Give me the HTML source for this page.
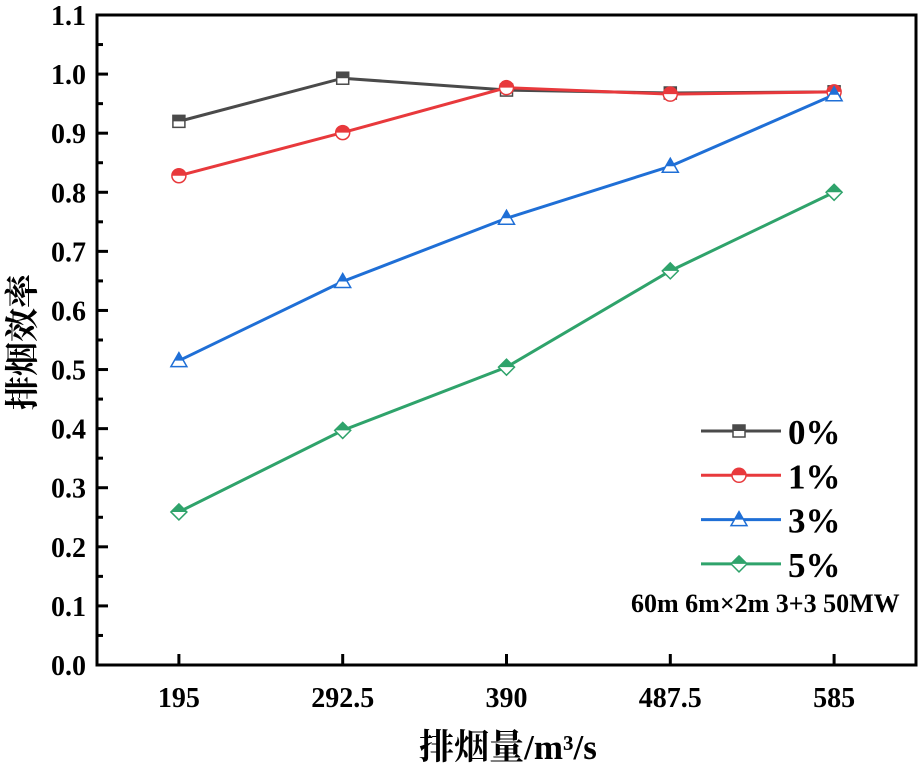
<!DOCTYPE html>
<html><head><meta charset="utf-8"><style>
body{margin:0;background:#fff}
svg{display:block;font-family:"Liberation Serif","Noto Serif CJK SC",serif}
</style></head><body>
<svg id="chart" width="921" height="768" xmlns="http://www.w3.org/2000/svg"></svg>
<script>
const categories=["195","292.5","390","487.5","585"];
const yTicks=[0,0.1,0.2,0.3,0.4,0.5,0.6,0.7,0.8,0.9,1.0,1.1];
const seriesNames=["0%","1%","3%","5%"];
const s0=[0.920,0.993,0.973,0.968,0.970];
const s1=[0.828,0.901,0.977,0.966,0.970];
const s3=[0.515,0.649,0.756,0.844,0.965];
const s5=[0.259,0.397,0.504,0.667,0.800];
const colors=["#4a4a4a","#e8393c","#1f6fd6","#2fa36b"];
const shapes=["square","circle","triangle","diamond"];
const L=97,R=916,T=15,B=665;
const step=(R-L)/categories.length;
function xs(i){return L+step*(i+0.5);}
function ys(v){return B-(v/1.1)*(B-T);}
const svg=document.getElementById('chart');
const NS="http://www.w3.org/2000/svg";
function mk(tag,attrs,parent){const e=document.createElementNS(NS,tag);for(const k in attrs)e.setAttribute(k,attrs[k]);(parent||svg).appendChild(e);return e;}
const frame=mk('rect',{x:L,y:T,width:R-L,height:B-T,fill:'none',stroke:'#000','stroke-width':3});


yTicks.forEach((v,i)=>{
 const y=ys(v);
 const t=mk('line',{x1:L,x2:L+11,y1:y,y2:y,stroke:'#000','stroke-width':3});
 
 
 if(i<yTicks.length-1){const ym=ys(v+0.05);const m=mk('line',{x1:L,x2:L+6,y1:ym,y2:ym,stroke:'#000','stroke-width':3});
 
 }
 const tx=mk('text',{x:L-11,y:y+10,'text-anchor':'end','font-size':28,'font-weight':'bold'});
 tx.textContent=v.toFixed(1);
 
 
});
categories.forEach((c,i)=>{
 const x=xs(i);
 const t=mk('line',{x1:x,x2:x,y1:B,y2:B-11,stroke:'#000','stroke-width':3});
 
 
 const tx=mk('text',{x:x,y:B+42,'text-anchor':'middle','font-size':28,'font-weight':'bold'});
 tx.textContent=c;
 
 
});
const xt=mk('text',{x:508,y:759,'text-anchor':'middle','font-size':35,'font-weight':'bold'});
xt.textContent='排烟量/m³/s';


const yt=mk('text',{x:0,y:0,'text-anchor':'middle','font-size':34,'font-weight':'bold',transform:'translate(34,342) rotate(-90)'});
yt.textContent='排烟效率';


function marker(shape,x,y,col,g){
 const s=6;
 if(shape==='square'){mk('rect',{x:x-s,y:y-s,width:2*s,height:2*s,fill:'#fff',stroke:col,'stroke-width':1.5},g);mk('rect',{x:x-s,y:y-s,width:2*s,height:s,fill:col},g);}
 else if(shape==='circle'){mk('circle',{cx:x,cy:y,r:7,fill:'#fff',stroke:col,'stroke-width':1.5},g);mk('path',{d:`M${x-7},${y} A7,7 0 0 1 ${x+7},${y} Z`,fill:col},g);}
 else if(shape==='triangle'){mk('polygon',{points:`${x},${y-8} ${x+8},${y+6} ${x-8},${y+6}`,fill:'#fff',stroke:col,'stroke-width':1.5},g);mk('polygon',{points:`${x},${y-8} ${x+4.6},${y} ${x-4.6},${y}`,fill:col},g);}
 else {mk('polygon',{points:`${x},${y-8} ${x+8},${y} ${x},${y+8} ${x-8},${y}`,fill:'#fff',stroke:col,'stroke-width':1.5},g);mk('polygon',{points:`${x},${y-8} ${x+8},${y} ${x-8},${y}`,fill:col},g);}
}
const allSeries=[s0,s1,s3,s5];
allSeries.forEach((data,k)=>{
 const g=mk('g',{});
 
 
 const pl=mk('polyline',{points:data.map((v,i)=>xs(i)+','+ys(v)).join(' '),fill:'none',stroke:colors[k],'stroke-width':3},g);
 
 
 data.forEach((v,i)=>marker(shapes[k],xs(i),ys(v),colors[k],g));
});
seriesNames.forEach((n,k)=>{
 const y=431+k*44.3;
 const g=mk('g',{});
 
 
 mk('line',{x1:701,x2:781,y1:y,y2:y,stroke:colors[k],'stroke-width':3},g);
 marker(shapes[k],739,y,colors[k],g);
 const t=mk('text',{x:788,y:y+13,'font-size':35,'font-weight':'bold'},g);
 t.textContent=n;
});
const ann=mk('text',{x:631,y:612,'font-size':26,'font-weight':'bold'});
ann.textContent='60m 6m×2m 3+3 50MW';


</script>
</body></html>
